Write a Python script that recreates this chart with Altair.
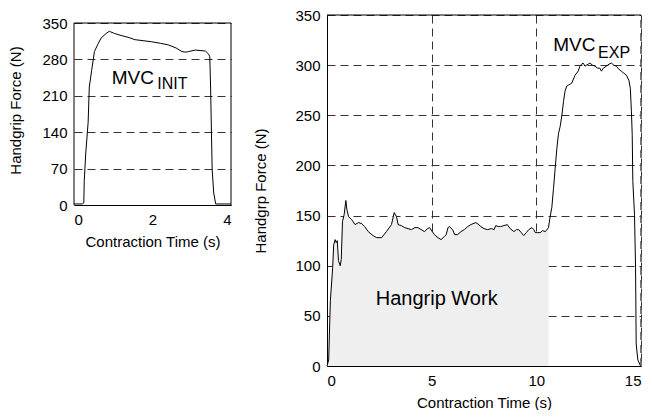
import altair as alt
import pandas as pd

FONT = "Liberation Sans"

# ---------------- data ----------------
left_t = [0.0, 0.21, 0.25, 0.26, 0.30, 0.36, 0.39, 0.45, 0.52, 0.60, 0.69, 0.82, 0.90,
          1.03, 1.20, 1.40, 1.55, 1.97, 2.20, 2.40, 2.60, 2.75, 2.85, 2.92, 3.09, 3.35,
          3.43, 3.46, 3.48, 3.52, 3.56, 3.61, 4.0]
left_f = [2, 2, 4, 45, 100, 159, 227, 259, 295, 308, 321, 330, 334,
          330, 326, 322, 318, 314, 311, 308, 302, 295, 294, 295, 298, 296,
          290, 285, 227, 68, 23, 2, 2]

right_t = [0.0, 0.08, 0.16, 0.27, 0.32, 0.39, 0.44, 0.49, 0.55, 0.63, 0.68, 0.74, 0.82,
           0.90, 0.95, 1.03, 1.18, 1.34, 1.50, 1.66, 1.80, 1.97, 2.20, 2.37, 2.61, 2.84,
           3.08, 3.21, 3.32, 3.40, 3.55, 3.71, 3.87, 4.03, 4.20, 4.34, 4.50, 4.66, 4.80,
           4.90, 5.13, 5.30, 5.45, 5.60, 5.69, 5.78, 5.85, 6.00, 6.10, 6.24, 6.40, 6.56,
           6.72, 6.87, 7.11, 7.25, 7.35, 7.50, 7.66, 7.85, 7.98, 8.06, 8.20, 8.29, 8.45,
           8.61, 8.75, 8.93, 9.05, 9.16, 9.28, 9.40, 9.52, 9.64, 9.79, 9.88, 9.95, 10.05,
           10.19, 10.30, 10.43, 10.58, 10.66, 10.74, 10.82, 10.90, 10.98, 11.06, 11.14,
           11.22, 11.30, 11.37, 11.45, 11.53, 11.69, 11.85, 12.00, 12.08, 12.16, 12.24,
           12.32, 12.40, 12.48, 12.56, 12.68, 12.80, 12.92, 13.03, 13.11, 13.20, 13.35,
           13.47, 13.59, 13.70, 13.82, 13.94, 14.06, 14.18, 14.30, 14.42, 14.49, 14.54,
           14.58, 14.61, 14.69, 14.74, 14.77, 14.85, 14.98]
right_f = [0, 6, 65, 98, 121, 126, 123, 125, 105, 100, 106, 144, 151,
           165, 156, 149, 146, 141, 143, 142, 139, 134, 130, 128, 128, 134,
           141, 153, 149, 141, 140, 138, 137, 136, 138, 138, 136, 134, 137,
           138, 131, 128, 126, 129, 131, 138, 139, 136, 131, 131, 134, 136,
           139, 141, 143, 141, 139, 137, 136, 137, 136, 140, 139, 139, 140,
           141, 137, 134, 136, 136, 133, 130, 133, 136, 138, 136, 133, 133,
           133, 135, 134, 138, 149, 158, 177, 197, 217, 232, 239,
           250, 264, 274, 279, 280, 282, 290, 294, 299, 301, 302,
           299, 300, 301, 302, 300, 299, 297, 297, 294, 297, 299,
           301, 302, 300, 299, 296, 294, 292, 290, 285, 277, 255,
           231, 184, 151, 98, 22, 6, 0]

work_end = 10.6  # end of the shaded "Hangrip Work" region (s)

left_ticks_x = [0, 2, 4]
left_ticks_y = [0, 70, 140, 210, 280, 350]
right_ticks_x = [0, 5, 10, 15]
right_ticks_y = [0, 50, 100, 150, 200, 250, 300, 350]

# annotations (data coordinates)
left_label = {"text": ["MVC"], "t": [0.96], "f": [233]}
left_sub = {"text": ["INIT"], "t": [2.12], "f": [223]}
right_label = {"text": ["MVC"], "t": [10.81], "f": [314]}
right_sub = {"text": ["EXP"], "t": [12.95], "f": [307]}
work_label = {"text": ["Hangrip Work"], "t": [5.24], "f": [67]}

# ---------------- frames ----------------
dl = pd.DataFrame({"t": left_t, "f": left_f})
dr = pd.DataFrame({"t": right_t, "f": right_f})
dfill = dr[dr.t <= work_end]

GRID_DASH = [8, 5]
BLACK = "#000000"

# ---------------- left panel ----------------
lx_scale = alt.Scale(domain=[0, 4], nice=False, zero=False)
ly_scale = alt.Scale(domain=[0, 365.4], nice=False)

lbase = alt.Chart(dl)
l_line = lbase.mark_line(color=BLACK, strokeWidth=1).encode(
    x=alt.X("t:Q", scale=lx_scale,
            axis=alt.Axis(values=left_ticks_x, tickCount=10, title="Contraction Time (s)",
                          grid=False, ticks=False, labelPadding=7, titlePadding=7,
                          format="d")),
    y=alt.Y("f:Q", scale=ly_scale,
            axis=alt.Axis(values=left_ticks_y, tickCount=12, title="Handgrip Force (N)",
                          grid=True, gridDash=GRID_DASH, domain=False, ticks=False,
                          labelOverlap=False, labelPadding=7, titlePadding=18)),
)
l_top = alt.Chart(pd.DataFrame({"f": [350]})).mark_rule(color=BLACK, strokeWidth=1).encode(
    y=alt.Y("f:Q", scale=ly_scale))
l_sides = alt.Chart(pd.DataFrame({"t": [0, 4], "f0": [0, 0], "f1": [350, 350]})).mark_rule(
    color=BLACK, strokeWidth=1).encode(
    x=alt.X("t:Q", scale=lx_scale), y=alt.Y("f0:Q", scale=ly_scale), y2="f1:Q")
l_txt = alt.Chart(pd.DataFrame(left_label)).mark_text(
    align="left", baseline="alphabetic", fontSize=19, font=FONT, color=BLACK).encode(
    x="t:Q", y="f:Q", text="text:N")
l_sub = alt.Chart(pd.DataFrame(left_sub)).mark_text(
    align="left", baseline="alphabetic", fontSize=16, font=FONT, color=BLACK).encode(
    x="t:Q", y="f:Q", text="text:N")

left = alt.layer(l_line, l_top, l_sides, l_txt, l_sub).properties(width=157, height=190)

# ---------------- right panel ----------------
rx_scale = alt.Scale(domain=[0, 15], nice=False, zero=False)
ry_scale = alt.Scale(domain=[0, 350], nice=False)

r_area = alt.Chart(dfill).mark_area(color="#efefef", opacity=1, line=False).encode(
    x=alt.X("t:Q", scale=rx_scale,
            axis=alt.Axis(values=right_ticks_x, tickCount=10, title="Contraction Time (s)",
                          grid=True, gridDash=GRID_DASH, ticks=False, labelPadding=7,
                          titlePadding=7, format="d")),
    y=alt.Y("f:Q", scale=ry_scale,
            axis=alt.Axis(values=right_ticks_y, tickCount=12, title="Handgrp Force (N)",
                          grid=True, gridDash=GRID_DASH, ticks=False, labelOverlap=False,
                          labelPadding=7, titlePadding=26)),
)
r_line = alt.Chart(dr).mark_line(color=BLACK, strokeWidth=1).encode(
    x=alt.X("t:Q", scale=rx_scale), y=alt.Y("f:Q", scale=ry_scale))
r_top = alt.Chart(pd.DataFrame({"f": [350]})).mark_rule(color=BLACK, strokeWidth=1).encode(
    y=alt.Y("f:Q", scale=ry_scale))
r_right = alt.Chart(pd.DataFrame({"t": [15], "f0": [0], "f1": [350]})).mark_rule(
    color="#555555", strokeWidth=1.6, strokeDash=GRID_DASH).encode(
    x=alt.X("t:Q", scale=rx_scale), y=alt.Y("f0:Q", scale=ry_scale), y2="f1:Q")
r_txt = alt.Chart(pd.DataFrame(right_label)).mark_text(
    align="left", baseline="alphabetic", fontSize=19, font=FONT, color=BLACK).encode(
    x="t:Q", y="f:Q", text="text:N")
r_sub = alt.Chart(pd.DataFrame(right_sub)).mark_text(
    align="left", baseline="alphabetic", fontSize=16, font=FONT, color=BLACK).encode(
    x="t:Q", y="f:Q", text="text:N")
r_work = alt.Chart(pd.DataFrame(work_label)).mark_text(
    align="center", baseline="middle", fontSize=20, font=FONT, color=BLACK).encode(
    x="t:Q", y="f:Q", text="text:N")

right = alt.layer(r_area, r_line, r_top, r_right, r_txt, r_sub, r_work).properties(
    width=314, height=351)

chart = alt.hconcat(left, right, spacing=20).properties(
    padding={"left": 0, "top": 0, "right": 0, "bottom": 0}
).configure_view(stroke=None).configure_axis(
    labelFont=FONT, titleFont=FONT, labelFontSize=15, titleFontSize=15,
    titleFontWeight="normal", labelColor=BLACK, titleColor=BLACK,
    domainColor=BLACK, domainWidth=1, gridColor="#333333", gridWidth=1, gridOpacity=1,
).configure_text(font=FONT)

chart.save("out.html", embed_options={"renderer": "svg", "actions": False})
